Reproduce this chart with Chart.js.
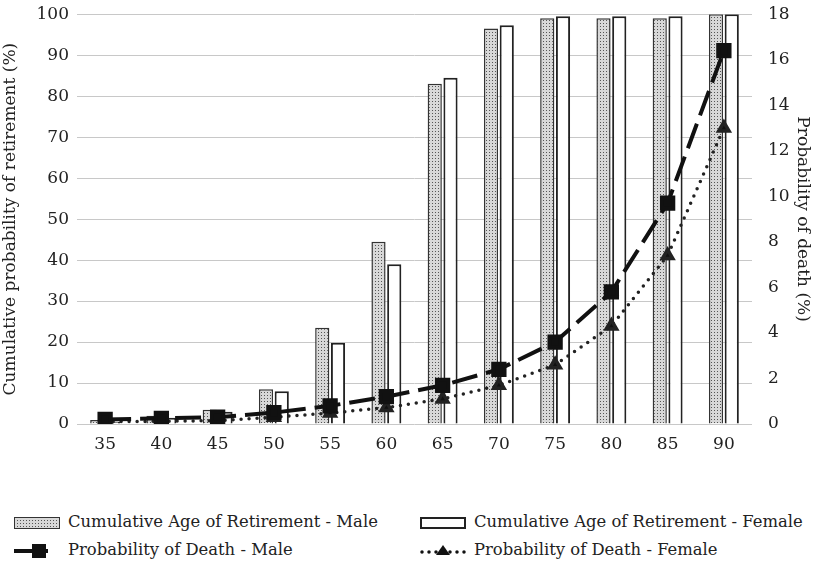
<!DOCTYPE html>
<html>
<head>
<meta charset="UTF-8">
<title>Retirement and death probability</title>
<style type="text/css">
body {
	margin: 0;
	background: #fff;
	font-family: "DejaVu Serif", serif;
	color: #222;
}
#wrap {
	width: 813px;
	height: 474px;
	position: relative;
	margin-top: -4px;
}
#legend {
	position: absolute;
	top: 508px;
	left: 0;
	width: 813px;
	font-size: 16.4px;
}
.item {
	position: absolute;
	white-space: nowrap;
	line-height: 24px;
}
.item svg {
	vertical-align: middle;
	margin-right: 8px;
}
</style>
<script type="text/javascript" src="https://cdn.jsdelivr.net/npm/chart.js@4.4.0/dist/chart.umd.min.js"></script>
</head>
<body>
<div id="wrap"><canvas id="grafico" width="813" height="474"></canvas></div>
<div id="legend">
	<div class="item" style="left:14px; top:2px;">
		<svg width="46" height="12"><defs><pattern id="pt" width="3" height="3" patternUnits="userSpaceOnUse"><rect width="3" height="3" fill="#d8d8d8"/><rect width="1" height="1" fill="#555"/></pattern></defs><rect x="0.5" y="0.5" width="45" height="11" fill="url(#pt)" stroke="#333"/></svg>Cumulative Age of Retirement - Male
	</div>
	<div class="item" style="left:420px; top:2px;">
		<svg width="46" height="12"><rect x="1" y="1" width="44" height="10" fill="#fff" stroke="#222" stroke-width="2"/></svg>Cumulative Age of Retirement - Female
	</div>
	<div class="item" style="left:14px; top:30px;">
		<svg width="46" height="16"><line x1="0" y1="8" x2="34" y2="8" stroke="#111" stroke-width="4"/><rect x="18" y="1" width="14" height="14" fill="#111"/></svg>Probability of Death - Male
	</div>
	<div class="item" style="left:420px; top:30px;">
		<svg width="46" height="16"><line x1="2" y1="9" x2="46" y2="9" stroke="#111" stroke-width="3.5" stroke-linecap="round" stroke-dasharray="0 7"/><polygon points="23,2 30,12 16,12" fill="#111"/></svg>Probability of Death - Female
	</div>
</div>
<script type="text/javascript">
// Datos
var ages = ['35', '40', '45', '50', '55', '60', '65', '70', '75', '80', '85', '90'];
var retirementMale = [1, 2, 3.5, 8.5, 23.5, 44.5, 83, 96.5, 99, 99, 99, 100];
var retirementFemale = [0.5, 1.5, 3, 8, 19.8, 39, 84.5, 97.3, 99.5, 99.5, 99.5, 100];
var deathMale = [0.2, 0.25, 0.3, 0.5, 0.8, 1.2, 1.7, 2.4, 3.6, 5.8, 9.7, 16.4];
var deathFemale = [0.1, 0.12, 0.15, 0.3, 0.48, 0.72, 1.1, 1.7, 2.6, 4.3, 7.4, 13];
var leftTicks = [0, 10, 20, 30, 40, 50, 60, 70, 80, 90, 100];
var rightTicks = [0, 2, 4, 6, 8, 10, 12, 14, 16, 18];

// Trama punteada para la barra de hombres
function dotPattern() {
	var c = document.createElement('canvas');
	c.width = 3; c.height = 3;
	var g = c.getContext('2d');
	g.fillStyle = '#d8d8d8';
	g.fillRect(0, 0, 3, 3);
	g.fillStyle = '#555';
	g.fillRect(0, 0, 1, 1);
	return g.createPattern(c, 'repeat');
}

var ctx = document.getElementById('grafico').getContext('2d');
var font = { family: 'DejaVu Serif', size: 17 };
var titleFont = { family: 'DejaVu Serif', size: 17 };

new Chart(ctx, {
	type: 'bar',
	data: {
		labels: ages,
		datasets: [
			{
				type: 'line', label: 'Probability of Death - Male', data: deathMale, yAxisID: 'y2', order: 0,
				borderColor: '#111', backgroundColor: '#111', borderWidth: 4, borderDash: [26, 9],
				pointStyle: 'rect', pointRadius: 8, pointBackgroundColor: '#111', fill: false, tension: 0
			},
			{
				type: 'line', label: 'Probability of Death - Female', data: deathFemale, yAxisID: 'y2', order: 0,
				borderColor: '#222', backgroundColor: '#222', borderWidth: 3.5, borderDash: [0, 8], borderCapStyle: 'round',
				pointStyle: 'triangle', pointRadius: 6, pointBackgroundColor: '#111', fill: false, tension: 0
			},
			{
				label: 'Cumulative Age of Retirement - Male', data: retirementMale, yAxisID: 'y', order: 1,
				backgroundColor: dotPattern(), borderColor: '#333', borderWidth: 1.5,
				categoryPercentage: 0.56, barPercentage: 0.9
			},
			{
				label: 'Cumulative Age of Retirement - Female', data: retirementFemale, yAxisID: 'y', order: 1,
				backgroundColor: '#fff', borderColor: '#222', borderWidth: 2,
				categoryPercentage: 0.56, barPercentage: 0.9
			}
		]
	},
	options: {
		responsive: false,
		animation: false,
		layout: { padding: { top: 2, left: 0, right: 0, bottom: 0 } },
		plugins: { legend: { display: false }, tooltip: { enabled: false } },
		scales: {
			x: {
				grid: { display: false },
				border: { display: false },
				ticks: { color: '#222', font: font, padding: 2 },
				afterFit: function (s) { s.height = 46; }
			},
			y: {
				position: 'left', min: 0, max: 100,
				afterBuildTicks: function (s) { s.ticks = leftTicks.map(function (v) { return { value: v }; }); },
				grid: { color: '#c8c8c8', lineWidth: 1, drawTicks: false },
				border: { display: false },
				ticks: { color: '#222', font: font, padding: 8 },
				title: { display: true, text: 'Cumulative probability of retirement (%)', color: '#222', font: titleFont, padding: 0 },
				afterFit: function (s) { s.width = 77; }
			},
			y2: {
				position: 'right', min: 0, max: 18,
				afterBuildTicks: function (s) { s.ticks = rightTicks.map(function (v) { return { value: v }; }); },
				grid: { display: false },
				border: { display: false },
				ticks: { color: '#222', font: font, padding: 8 },
				title: { display: true, text: 'Probability of death (%)', color: '#222', font: titleFont, padding: 0 },
				afterFit: function (s) { s.width = 61; }
			}
		}
	}
});
</script>
</body>
</html>
